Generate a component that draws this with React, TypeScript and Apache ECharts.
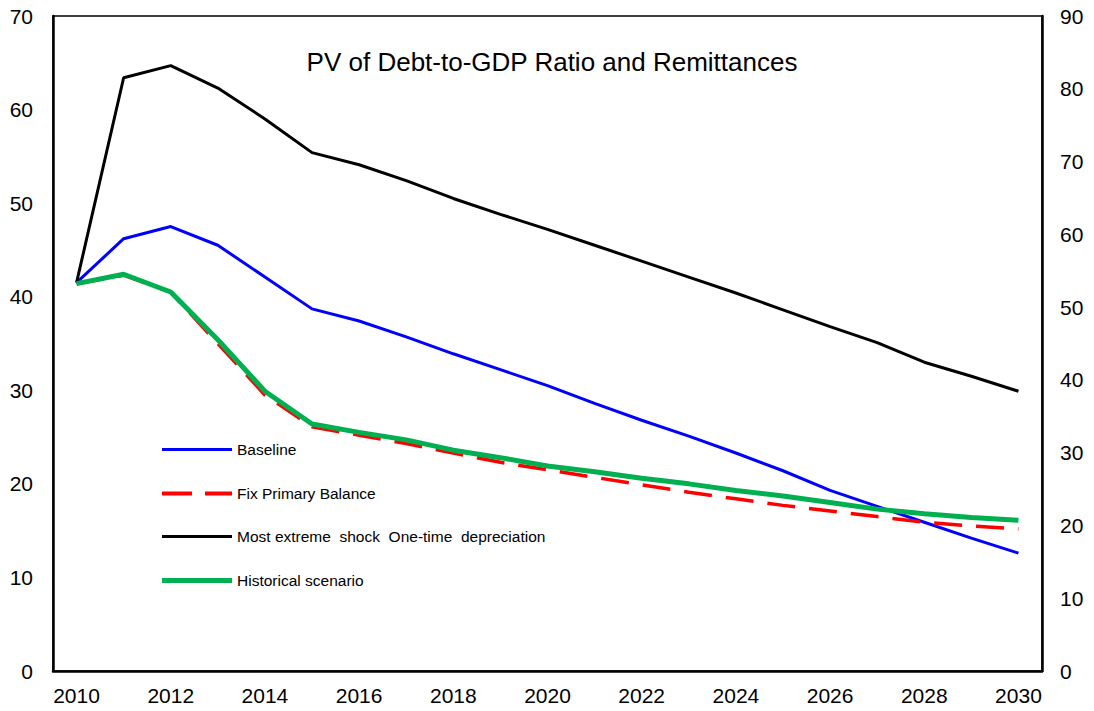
import React, { useEffect, useRef } from "react";
import * as echarts from "echarts";

const years = ["2010","2011","2012","2013","2014","2015","2016","2017","2018","2019","2020","2021","2022","2023","2024","2025","2026","2027","2028","2029","2030"];
const baseline = [41.5,46.2,47.5,45.5,42.1,38.7,37.4,35.7,33.9,32.2,30.5,28.6,26.8,25.1,23.3,21.4,19.3,17.6,15.9,14.2,12.6];
const fixPrimary = [41.4,42.3,40.5,35.0,29.5,26.1,25.2,24.3,23.3,22.3,21.5,20.7,19.9,19.1,18.4,17.7,17.1,16.5,15.9,15.5,15.2];
const extremeShock = [41.5,63.4,64.7,62.3,59.0,55.4,54.1,52.4,50.5,48.8,47.2,45.5,43.8,42.1,40.4,38.6,36.8,35.1,33.0,31.5,29.9];
const historical = [41.4,42.4,40.5,35.4,29.9,26.4,25.5,24.7,23.6,22.8,21.9,21.3,20.6,20.0,19.3,18.7,18.0,17.3,16.8,16.4,16.1];

const seriesNames = ["Baseline", "Fix Primary Balance", "Most extreme  shock  One-time  depreciation", "Historical scenario"];

const FONT = "'Liberation Sans', Arial, sans-serif";
const dashIcon = "path://M0,0H30V4H0Z M43,0H70V4H43Z";

const legendRowCenters = [449, 493, 536, 580];
const legendIconHeights = [3, 4, 3, 5];
const legendIcons = ["rect", dashIcon, "rect", "rect"];

export default function App() {
  const ref = useRef<HTMLDivElement>(null);
  useEffect(() => {
    if (!ref.current) return;
    const chart = echarts.init(ref.current, undefined, { renderer: "svg" });
    const legends = seriesNames.map((name, i) => ({
      orient: "vertical",
      left: 157,
      top: legendRowCenters[i] - 7.5 - 5,
      itemWidth: 70,
      itemHeight: legendIconHeights[i],
      icon: legendIcons[i],
      textStyle: { fontFamily: FONT, fontSize: 15.5, color: "#000", lineHeight: 15 },
      data: [name],
    }));
    chart.setOption({
      animation: false,
      backgroundColor: "#fff",
      textStyle: { fontFamily: FONT },
      title: {
        text: "PV of Debt-to-GDP Ratio and Remittances",
        left: 547,
        top: 44,
        textAlign: "center",
        textStyle: { fontFamily: FONT, fontSize: 26, fontWeight: "normal", color: "#000" },
      },
      legend: legends,
      grid: {
        left: 53,
        right: 52,
        top: 16,
        bottom: 40,
        show: true,
        borderColor: "#000",
        borderWidth: 1.5,
        containLabel: false,
      },
      xAxis: {
        type: "category",
        data: years,
        boundaryGap: true,
        axisLine: { show: true, lineStyle: { color: "#000", width: 2.5 } },
        axisTick: { show: false },
        axisLabel: { interval: 1, color: "#000", fontSize: 21, fontFamily: FONT, margin: 14 },
        splitLine: { show: false },
      },
      yAxis: [
        {
          type: "value",
          min: 0,
          max: 70,
          interval: 10,
          position: "left",
          axisLine: { show: true, lineStyle: { color: "#000", width: 2.5 } },
          axisTick: { show: false },
          axisLabel: { color: "#000", fontSize: 21, fontFamily: FONT, margin: 20 },
          splitLine: { show: false },
        },
        {
          type: "value",
          min: 0,
          max: 90,
          interval: 10,
          position: "right",
          axisLine: { show: true, lineStyle: { color: "#000", width: 2.5 } },
          axisTick: { show: false },
          axisLabel: { color: "#000", fontSize: 21, fontFamily: FONT, margin: 18 },
          splitLine: { show: false },
        },
      ],
      series: [
        {
          name: seriesNames[0],
          type: "line",
          data: baseline,
          symbol: "none",
          lineStyle: { color: "#0000ff", width: 3 },
          itemStyle: { color: "#0000ff" },
        },
        {
          name: seriesNames[1],
          type: "line",
          data: fixPrimary,
          symbol: "none",
          lineStyle: { color: "#ff0000", width: 3.5, type: [28, 14] },
          itemStyle: { color: "#ff0000" },
        },
        {
          name: seriesNames[2],
          type: "line",
          data: extremeShock,
          symbol: "none",
          lineStyle: { color: "#000000", width: 3 },
          itemStyle: { color: "#000000" },
        },
        {
          name: seriesNames[3],
          type: "line",
          data: historical,
          symbol: "none",
          lineStyle: { color: "#00b050", width: 5 },
          itemStyle: { color: "#00b050" },
        },
      ],
    });
    return () => chart.dispose();
  }, []);
  return (
    <div
      ref={ref}
      style={{ position: "fixed", left: 0, top: 0, width: 1094, height: 711, background: "#fff" }}
    />
  );
}
